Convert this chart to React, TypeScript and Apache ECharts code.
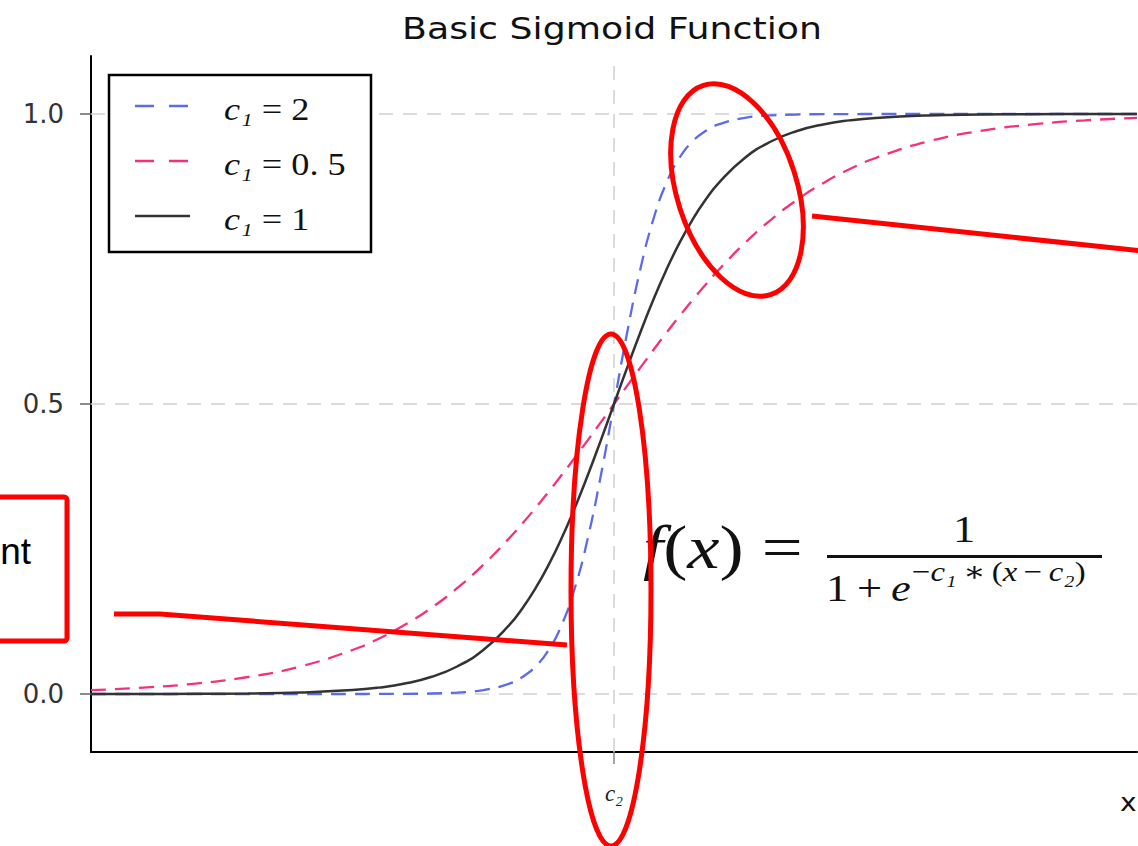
import React, { useEffect, useRef } from "react";
import * as echarts from "echarts";

// x positions (c2 = 0)
const xs = [-10, -9, -8, -7, -6, -5, -4.5, -4, -3.5, -3, -2.5, -2, -1.75, -1.5, -1.25, -1, -0.75, -0.5, -0.25, 0,
  0.25, 0.5, 0.75, 1, 1.25, 1.5, 1.75, 2, 2.5, 3, 3.5, 4, 4.5, 5, 6, 7, 8, 9, 10];

// c1 = 2 (blue dashed)
const blueVals = [0, 0, 0, 0, 0, 0, 0.0001, 0.0003, 0.0009, 0.0025, 0.0067, 0.018, 0.0293, 0.0474, 0.0759, 0.1192, 0.1824, 0.2689, 0.3775, 0.5,
  0.6225, 0.7311, 0.8176, 0.8808, 0.9241, 0.9526, 0.9707, 0.982, 0.9933, 0.9975, 0.9991, 0.9997, 0.9999, 1, 1, 1, 1, 1, 1];

// c1 = 0.5 (pink dashed)
const pinkVals = [0.0067, 0.011, 0.018, 0.0293, 0.0474, 0.0759, 0.0953, 0.1192, 0.148, 0.1824, 0.2227, 0.2689, 0.2942, 0.3208, 0.3487, 0.3775, 0.4073, 0.4378, 0.4688, 0.5,
  0.5312, 0.5622, 0.5927, 0.6225, 0.6513, 0.6792, 0.7058, 0.7311, 0.7773, 0.8176, 0.852, 0.8808, 0.9047, 0.9241, 0.9526, 0.9707, 0.982, 0.989, 0.9933];

// c1 = 1 (black solid)
const blackVals = [0, 0.0001, 0.0003, 0.0009, 0.0025, 0.0067, 0.011, 0.018, 0.0293, 0.0474, 0.0759, 0.1192, 0.148, 0.1824, 0.2227, 0.2689, 0.3208, 0.3775, 0.4378, 0.5,
  0.5622, 0.6225, 0.6792, 0.7311, 0.7773, 0.8176, 0.852, 0.8808, 0.9241, 0.9526, 0.9707, 0.982, 0.989, 0.9933, 0.9975, 0.9991, 0.9997, 0.9999, 1];

const yTicks = [0, 0.5, 1];
const xTicks = [0];
const gridY = [0, 0.5, 1];
const gridX = [0];

const seriesNames = ["c1 = 2", "c1 = 0.5", "c1 = 1"];

const SERIF = "'Liberation Serif', 'DejaVu Serif', serif";
const SANS = "'DejaVu Sans', sans-serif";
const SX = 1.17;
const RED = "#ff0000";
const BLUE = "#5a6ce8";
const PINK = "#f5307c";

function pairs(vals: number[]) {
  return xs.map((x, i) => [x, vals[i]]);
}

function mathRich(size: number) {
  return {
    i: { fontFamily: SERIF, fontStyle: "italic", fontSize: size, fill: "#111", color: "#111" },
    n: { fontFamily: SERIF, fontStyle: "normal", fontSize: size, fill: "#111", color: "#111" },
  };
}

function mathText(x: number, y: number, text: string, size: number, align = "left", z = 60) {
  return {
    type: "text",
    x,
    y,
    scaleX: SX,
    z,
    style: {
      text,
      rich: mathRich(size),
      fontSize: size,
      fontFamily: SERIF,
      fill: "#111",
      align,
      textAlign: align,
      verticalAlign: "middle",
      textVerticalAlign: "middle",
    },
  };
}

const legendRows = [
  { y: 106, ty: 109, color: BLUE, dash: [19, 15], label: "{i|c₁}{n| = 2}" },
  { y: 161, ty: 164, color: PINK, dash: [19, 15], label: "{i|c₁}{n| = 0. 5}" },
  { y: 216, ty: 219, color: "#333333", dash: null as number[] | null, label: "{i|c₁}{n| = 1}" },
];

const lineCommon = {
  type: "line",
  smooth: true,
  symbol: "none",
  showSymbol: false,
};

const option = {
  animation: false,
  backgroundColor: "#ffffff",
  grid: { left: 91, right: 1, top: 56, bottom: 94 },
  xAxis: {
    type: "value",
    min: -10,
    max: 10,
    axisLine: { show: true, onZero: false, lineStyle: { color: "#000", width: 2 } },
    axisTick: { show: true, customValues: xTicks, length: 12, lineStyle: { color: "#888", width: 1.5 } },
    axisLabel: {
      show: true,
      customValues: xTicks,
      formatter: () => "c₂",
      fontFamily: SERIF,
      fontStyle: "italic",
      fontSize: 23,
      color: "#222",
      margin: 30,
    },
    splitLine: { show: false },
  },
  yAxis: {
    type: "value",
    min: -0.1,
    max: 1.1,
    axisLine: { show: true, onZero: false, lineStyle: { color: "#000", width: 2 } },
    axisTick: { show: true, customValues: yTicks, length: 11, lineStyle: { color: "#666", width: 1.5 } },
    axisLabel: {
      show: true,
      customValues: yTicks,
      formatter: (v: number) => v.toFixed(1),
      fontFamily: SANS,
      fontSize: 26,
      color: "#333",
      margin: 27,
    },
    splitLine: { show: false },
  },
  series: [
    {
      ...lineCommon,
      name: seriesNames[0],
      data: pairs(blueVals),
      z: 3,
      lineStyle: { color: BLUE, width: 2.3, type: [15, 9] },
      markLine: {
        silent: true,
        z: 1,
        symbol: ["none", "none"],
        label: { show: false },
        lineStyle: { color: "#cfcfcf", width: 1.5, type: [14, 10] },
        emphasis: { disabled: true },
        data: [...gridY.map((v) => ({ yAxis: v })), ...gridX.map((v) => ({ xAxis: v }))],
      },
    },
    {
      ...lineCommon,
      name: seriesNames[1],
      data: pairs(pinkVals),
      z: 3,
      lineStyle: { color: PINK, width: 2.3, type: [15, 9] },
    },
    {
      ...lineCommon,
      name: seriesNames[2],
      data: pairs(blackVals),
      z: 4,
      lineStyle: { color: "#333333", width: 2.5, type: "solid" },
    },
  ],
  graphic: [
    // title
    {
      type: "text",
      x: 612,
      y: 28,
      scaleX: SX,
      z: 60,
      style: {
        text: "Basic Sigmoid Function",
        fontSize: 31,
        fontFamily: SANS,
        fill: "#111",
        align: "center",
        textAlign: "center",
        verticalAlign: "middle",
        textVerticalAlign: "middle",
      },
    },
    // x label
    {
      type: "text",
      x: 1120,
      y: 803,
      scaleX: SX,
      z: 60,
      style: {
        text: "x",
        fontSize: 24,
        fontFamily: SANS,
        fill: "#111",
        align: "left",
        textAlign: "left",
        verticalAlign: "middle",
        textVerticalAlign: "middle",
      },
    },
    // legend box
    {
      type: "rect",
      z: 50,
      shape: { x: 109, y: 75, width: 262, height: 177 },
      style: { fill: "#ffffff", stroke: "#000", lineWidth: 2.5 },
    },
    ...legendRows.map((r) => ({
      type: "line",
      z: 51,
      shape: { x1: 135, y1: r.y, x2: 190, y2: r.y },
      style: { stroke: r.color, lineWidth: 2.3, lineDash: r.dash || undefined },
    })),
    ...legendRows.map((r) => mathText(224, r.ty, r.label, 31, "left", 52)),
    // formula
    mathText(643, 547, "{i|f}{n|(}{i|x}{n|) =}", 62),
    {
      type: "line",
      z: 60,
      shape: { x1: 827, y1: 556.5, x2: 1102, y2: 556.5 },
      style: { stroke: "#111", lineWidth: 3 },
    },
    mathText(964, 529, "{n|1}", 38, "center"),
    mathText(826, 588, "{n|1\u2009+\u2009}{i|e}", 38),
    mathText(912, 572, "{n|−}{i|c₁}{n|\u2009∗\u2009(}{i|x}{n|\u2009−\u2009}{i|c₂}{n|)}", 28),
    // red annotations
    {
      type: "ellipse",
      z: 100,
      x: 737,
      y: 190,
      rotation: 0.31,
      shape: { cx: 0, cy: 0, rx: 60, ry: 110 },
      style: { fill: "none", stroke: RED, lineWidth: 5 },
    },
    {
      type: "ellipse",
      z: 100,
      x: 611,
      y: 590,
      shape: { cx: 0, cy: 0, rx: 40, ry: 256 },
      style: { fill: "none", stroke: RED, lineWidth: 5 },
    },
    {
      type: "line",
      z: 100,
      shape: { x1: 812, y1: 216, x2: 1142, y2: 251 },
      style: { stroke: RED, lineWidth: 5 },
    },
    {
      type: "polyline",
      z: 100,
      shape: { points: [[114, 614], [160, 614], [567, 645]] },
      style: { fill: "none", stroke: RED, lineWidth: 5 },
    },
    {
      type: "rect",
      z: 100,
      shape: { x: -20, y: 497, width: 87, height: 144, r: 3 },
      style: { fill: "none", stroke: RED, lineWidth: 5 },
    },
    {
      type: "text",
      x: 31,
      y: 551,
      z: 100,
      style: {
        text: "nt",
        fontSize: 37,
        fontFamily: "'Liberation Sans', Arial, sans-serif",
        fill: "#000",
        align: "right",
        textAlign: "right",
        verticalAlign: "middle",
        textVerticalAlign: "middle",
      },
    },
  ],
};

export default function App() {
  const ref = useRef<HTMLDivElement>(null);
  useEffect(() => {
    if (!ref.current) return;
    const chart = echarts.init(ref.current, null, { renderer: "svg" });
    chart.setOption(option as any);
    return () => {
      chart.dispose();
    };
  }, []);
  return (
    <div
      ref={ref}
      style={{ position: "absolute", left: 0, top: 0, width: 1138, height: 846, background: "#fff" }}
    />
  );
}
